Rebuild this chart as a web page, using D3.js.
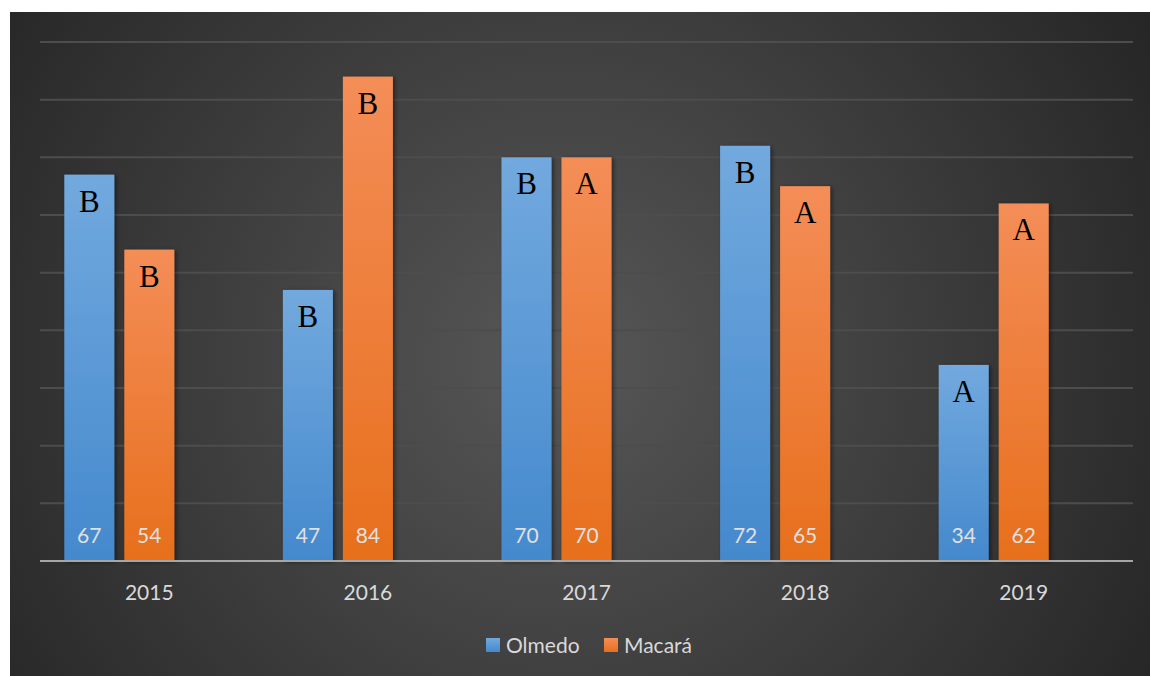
<!DOCTYPE html>
<html>
<head>
<meta charset="utf-8">
<script src="https://cdn.jsdelivr.net/npm/d3@7/dist/d3.min.js"></script>
<style>
html,body{margin:0;padding:0;background:#fff;}
svg{display:block;}
</style>
</head>
<body>
<script>
const years = ["2015","2016","2017","2018","2019"];
const seriesNames = ["Olmedo","Macará"];
const olmedo = [67,47,70,72,34];
const macara = [54,84,70,65,62];
const olmedoLetters = ["B","B","B","B","A"];
const macaraLetters = ["B","B","A","A","A"];
const yTicks = [0,10,20,30,40,50,60,70,80,90];

const W = 1150, H = 676;
const svg = d3.select("body").append("svg").attr("width", W).attr("height", H);
const defs = svg.append("defs");

const bg = defs.append("radialGradient").attr("id","bg")
  .attr("gradientUnits","userSpaceOnUse").attr("cx",560).attr("cy",360).attr("r",720);
bg.append("stop").attr("offset","0%").attr("stop-color","#575757");
bg.append("stop").attr("offset","100%").attr("stop-color","#232323");

function grad(id, top, bottom){
  const g = defs.append("linearGradient").attr("id",id).attr("x1",0).attr("y1",0).attr("x2",0).attr("y2",1);
  g.append("stop").attr("offset","0%").attr("stop-color",top);
  g.append("stop").attr("offset","100%").attr("stop-color",bottom);
}
grad("gBlue","#72a9de","#4489cd");
grad("gOrange","#f48d57","#e76f1c");

const sh = defs.append("filter").attr("id","shadow").attr("x","-20%").attr("y","-20%").attr("width","150%").attr("height","150%");
sh.append("feDropShadow").attr("dx",2).attr("dy",1).attr("stdDeviation",2).attr("flood-color","#000").attr("flood-opacity",0.45);

svg.append("rect").attr("x",10).attr("y",12).attr("width",W-10).attr("height",H-12).attr("fill","url(#bg)");

const plot = {left:40, right:1133, top:42, bottom:561};
const x = d3.scaleBand().domain(years).range([plot.left, plot.right]).padding(0);
const inner = d3.scaleBand().domain(["Olmedo","Macará","_"]).range([0, x.bandwidth()])
  .paddingInner(1/6).paddingOuter(0.405);
const y = d3.scaleLinear().domain([0,90]).range([plot.bottom, plot.top]);

// gridlines
svg.append("g").selectAll("line").data(yTicks.filter(d=>d>0)).join("line")
  .attr("x1",plot.left).attr("x2",plot.right)
  .attr("y1",d=>y(d)).attr("y2",d=>y(d))
  .attr("stroke","#4d4d4d").attr("stroke-width",2);

const data = [];
years.forEach((yr,i)=>{
  data.push({year:yr, s:"Olmedo", v:olmedo[i], letter:olmedoLetters[i], fill:"url(#gBlue)"});
  data.push({year:yr, s:"Macará", v:macara[i], letter:macaraLetters[i], fill:"url(#gOrange)"});
});

const bars = svg.append("g");
bars.selectAll("rect").data(data).join("rect")
  .attr("x",d=>x(d.year)+inner(d.s))
  .attr("width",inner.bandwidth())
  .attr("y",d=>y(d.v))
  .attr("height",d=>y(0)-y(d.v))
  .attr("fill",d=>d.fill)
  .attr("filter","url(#shadow)");

// axis line
svg.append("line").attr("x1",plot.left).attr("x2",plot.right)
  .attr("y1",y(0)).attr("y2",y(0)).attr("stroke","#a6a6a6").attr("stroke-width",2);

// value labels
svg.append("g").selectAll("text").data(data).join("text")
  .attr("x",d=>x(d.year)+inner(d.s)+inner.bandwidth()/2)
  .attr("y",y(0)-18)
  .attr("text-anchor","middle")
  .attr("font-family","Lato, 'Open Sans', sans-serif")
  .attr("font-size",21)
  .attr("fill","#e0e0e0")
  .text(d=>d.v);

// letters
svg.append("g").selectAll("text").data(data).join("text")
  .attr("x",d=>x(d.year)+inner(d.s)+inner.bandwidth()/2)
  .attr("y",d=>y(d.v)+37)
  .attr("text-anchor","middle")
  .attr("font-family","'Liberation Serif', 'Times New Roman', serif")
  .attr("font-size",31)
  .attr("fill","#000")
  .text(d=>d.letter);

// x axis labels
const xAxis = d3.axisBottom(x).tickSize(0).tickPadding(0);
const gx = svg.append("g").attr("transform",`translate(0,${y(0)})`).call(xAxis);
gx.select(".domain").remove();
gx.selectAll("text")
  .attr("y",39)
  .attr("dy",0)
  .attr("font-family","Lato, 'Open Sans', sans-serif")
  .attr("font-size",21)
  .attr("fill","#d9d9d9");

// legend
const legend = svg.append("g");
const legendItems = [{name:seriesNames[0], fill:"url(#gBlue)", x:486},{name:seriesNames[1], fill:"url(#gOrange)", x:604}];
const lg = legend.selectAll("g").data(legendItems).join("g").attr("transform",d=>`translate(${d.x},638)`);
lg.append("rect").attr("width",14).attr("height",14).attr("fill",d=>d.fill);
lg.append("text").attr("x",20).attr("y",15)
  .attr("font-family","Lato, 'Open Sans', sans-serif")
  .attr("font-size",21).attr("fill","#d9d9d9").text(d=>d.name);
</script>
</body>
</html>
